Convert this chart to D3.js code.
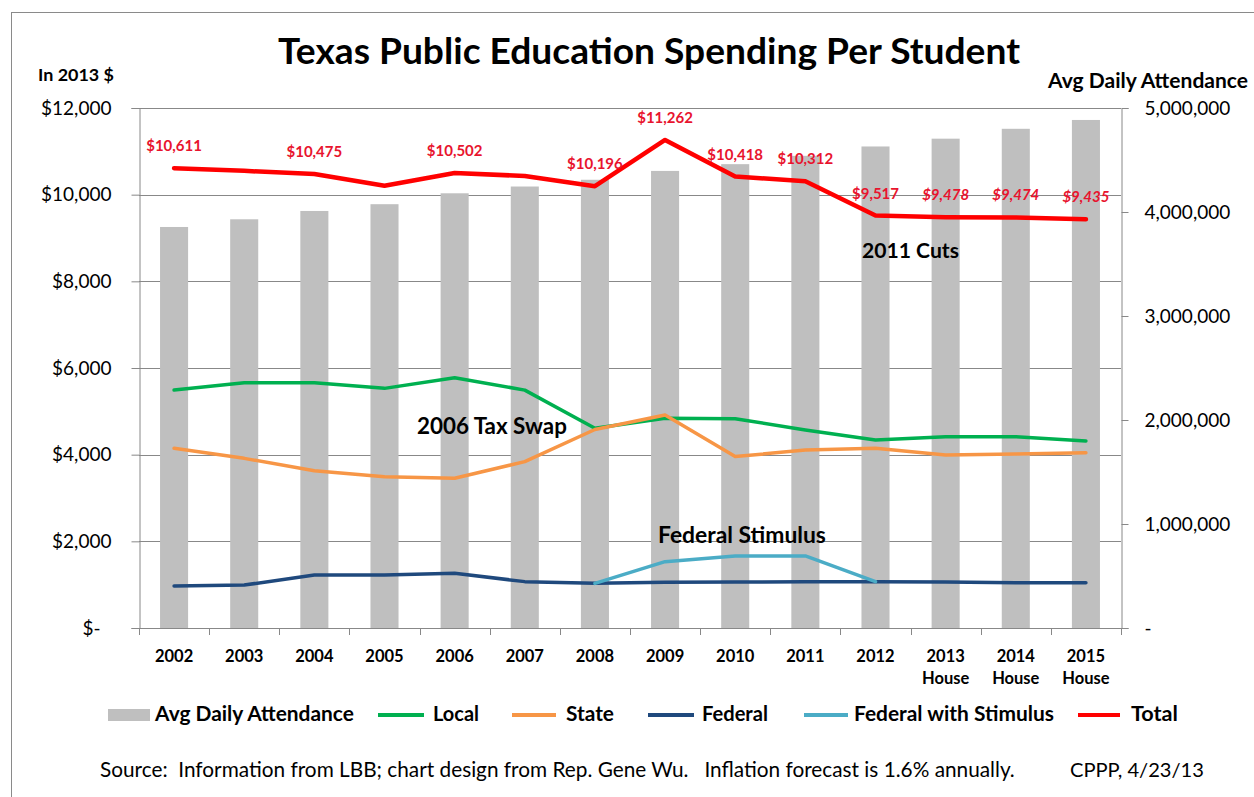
<!DOCTYPE html>
<html>
<head>
<meta charset="utf-8">
<script src="https://cdn.jsdelivr.net/npm/d3@7"></script>
<style>
  html, body { margin: 0; padding: 0; background: #fff; }
  svg { display: block; font-family: Lato, "Open Sans", sans-serif; }
</style>
</head>
<body>
<svg id="chart" width="1254" height="797"></svg>
<script>
// ---------------- DATA ----------------
const years = ['2002','2003','2004','2005','2006','2007','2008','2009','2010','2011','2012','2013','2014','2015'];
const yearNotes = ['','','','','','','','','','','','House','House','House'];
const attendance = [3856000, 3930000, 4010000, 4075000, 4180000, 4245000, 4310000, 4395000, 4460000, 4540000, 4630000, 4705000, 4800000, 4885000];
const local = [5490, 5660, 5660, 5530, 5775, 5490, 4610, 4840, 4830, 4570, 4340, 4415, 4415, 4315];
const state = [4146, 3915, 3630, 3490, 3455, 3840, 4580, 4915, 3955, 4108, 4146, 3990, 4015, 4046];
const federal = [970, 990, 1225, 1225, 1262, 1070, 1030, 1054, 1060, 1065, 1069, 1062, 1046, 1046];
const federalStimulus = [null, null, null, null, null, null, 1030, 1530, 1662, 1662, 1069, null, null, null];
const total = [10611, 10550, 10475, 10205, 10502, 10430, 10196, 11262, 10418, 10312, 9517, 9478, 9474, 9435];
const totalLabelShown = [true, false, true, false, true, false, true, true, true, true, true, true, true, true];
const leftTicks = [0, 2000, 4000, 6000, 8000, 10000, 12000];
const rightTicks = [0, 1000000, 2000000, 3000000, 4000000, 5000000];

// ---------------- LAYOUT ----------------
const svg = d3.select('#chart');
const P = { left: 139, right: 1121, top: 108, bottom: 628 };
const C = {
  bar: '#BFBFBF', local: '#00B050', state: '#F79646', federal: '#1F497D',
  stim: '#4BACC6', total: '#FF0000', label: '#E8142E', grid: '#888888', text: '#000'
};

function fit(sel, target) {
  sel.each(function () {
    const fs = parseFloat(this.getAttribute('font-size'));
    const w = this.getComputedTextLength();
    if (w > 0) this.setAttribute('font-size', (fs * target / w).toFixed(2));
  });
  return sel;
}

// Border (chart area frame)
svg.append('line').attr('x1', 11.5).attr('x2', 11.5).attr('y1', 12).attr('y2', 797).attr('stroke', '#8a8a8a');
svg.append('line').attr('x1', 11).attr('x2', 1254).attr('y1', 12.5).attr('y2', 12.5).attr('stroke', '#8a8a8a');

const x = d3.scaleBand().domain(years).range([P.left, P.right]).paddingInner(0.6).paddingOuter(0.3);
const xc = d => x(d) + x.bandwidth() / 2;
const yL = d3.scaleLinear().domain([0, 12000]).range([P.bottom, P.top]);
const yR = d3.scaleLinear().domain([0, 5000000]).range([P.bottom, P.top]);

// Gridlines
svg.append('g').selectAll('line').data(leftTicks.filter(d => d > 0)).join('line')
  .attr('x1', P.left).attr('x2', P.right)
  .attr('y1', d => Math.round(yL(d)) + 0.5).attr('y2', d => Math.round(yL(d)) + 0.5)
  .attr('stroke', C.grid).attr('stroke-width', 1);

// Bars
svg.append('g').selectAll('rect').data(years).join('rect')
  .attr('x', d => x(d)).attr('width', x.bandwidth())
  .attr('y', (d, i) => yR(attendance[i])).attr('height', (d, i) => P.bottom - yR(attendance[i]))
  .attr('fill', C.bar);

// Axes
const axL = svg.append('g').attr('transform', `translate(${P.left + 0.5},0)`)
  .call(d3.axisLeft(yL).tickValues(leftTicks).tickSize(8).tickPadding(20)
    .tickFormat(d => d === 0 ? '$-' : '$' + d3.format(',')(d)));
axL.selectAll('text').attr('font-size', 19).attr('font-family', 'Lato').attr('fill', '#000')
  .attr('dx', d => d === 0 ? -11 : 0);

const axR = svg.append('g').attr('transform', `translate(${P.right + 0.5},0)`)
  .call(d3.axisRight(yR).tickValues(rightTicks).tickSize(7).tickPadding(16)
    .tickFormat(d => d === 0 ? '-' : d3.format(',')(d)));
axR.selectAll('text').attr('font-size', 19).attr('font-family', 'Lato').attr('fill', '#000');

[axL, axR].forEach(a => {
  a.select('.domain').attr('stroke', C.grid);
  a.selectAll('.tick line').attr('stroke', C.grid);
});

// X axis (category boundaries as ticks)
const xAxis = svg.append('g');
xAxis.append('line').attr('x1', P.left).attr('x2', P.right)
  .attr('y1', P.bottom + 0.5).attr('y2', P.bottom + 0.5).attr('stroke', C.grid);
const step = x.step();
xAxis.selectAll('line.tk').data(d3.range(years.length + 1)).join('line').attr('class', 'tk')
  .attr('x1', i => Math.round(P.left + i * step) + 0.5).attr('x2', i => Math.round(P.left + i * step) + 0.5)
  .attr('y1', P.bottom).attr('y2', P.bottom + 7).attr('stroke', C.grid);
xAxis.selectAll('text.yr').data(years).join('text').attr('class', 'yr')
  .attr('x', d => xc(d)).attr('y', 662).attr('text-anchor', 'middle')
  .attr('font-size', 16.5).attr('font-weight', 700).text(d => d);
xAxis.selectAll('text.note').data(years.map((d, i) => [d, yearNotes[i]]).filter(d => d[1])).join('text').attr('class', 'note')
  .attr('x', d => xc(d[0])).attr('y', 684).attr('text-anchor', 'middle')
  .attr('font-size', 16.5).attr('font-weight', 700).text(d => d[1]);

// Lines
function drawLine(values, color, width) {
  const line = d3.line().defined(d => d[1] != null).x(d => xc(d[0])).y(d => yL(d[1]));
  svg.append('path').datum(years.map((d, i) => [d, values[i]]))
    .attr('d', line).attr('fill', 'none').attr('stroke', color).attr('stroke-width', width)
    .attr('stroke-linejoin', 'round').attr('stroke-linecap', 'round');
}
drawLine(local, C.local, 3.5);
drawLine(state, C.state, 3.5);
drawLine(federal, C.federal, 3.5);
drawLine(federalStimulus, C.stim, 3.5);
drawLine(total, C.total, 4.5);

// Total labels
svg.append('g').selectAll('text').data(years.map((d, i) => ({ d, i })).filter(o => totalLabelShown[o.i])).join('text')
  .attr('x', o => xc(o.d)).attr('y', o => yL(total[o.i]) - 17)
  .attr('text-anchor', 'middle').attr('font-size', 15).attr('font-weight', 700)
  .attr('font-style', o => yearNotes[o.i] ? 'italic' : 'normal')
  .attr('fill', C.label).text(o => '$' + d3.format(',')(total[o.i]));

// Annotations
const ann = [
  { t: '2006 Tax Swap', x: 417, y: 434, w: 150 },
  { t: 'Federal Stimulus', x: 658, y: 543, w: 168 },
  { t: '2011 Cuts', x: 862, y: 258, w: 97 }
];
ann.forEach(a => {
  svg.append('text').attr('x', a.x).attr('y', a.y).attr('font-size', 18).attr('font-weight', 700)
    .text(a.t).call(fit, a.w);
});

// Title & axis titles
svg.append('text').attr('x', 649).attr('y', 64).attr('text-anchor', 'middle')
  .attr('font-size', 34).attr('font-weight', 700).text('Texas Public Education Spending Per Student').call(fit, 742);
svg.append('text').attr('x', 38).attr('y', 81).attr('font-size', 16).attr('font-weight', 700)
  .text('In 2013 $').call(fit, 76);
svg.append('text').attr('x', 1248).attr('y', 88).attr('text-anchor', 'end').attr('font-size', 16).attr('font-weight', 700)
  .text('Avg Daily Attendance').call(fit, 200);

// Legend
const legendItems = [
  { t: 'Avg Daily Attendance', type: 'rect', c: C.bar, sx: 108, ex: 150, tx: 155, w: 199 },
  { t: 'Local', type: 'line', c: C.local, sx: 378, ex: 424, tx: 433, w: 46 },
  { t: 'State', type: 'line', c: C.state, sx: 512, ex: 556, tx: 566, w: 48 },
  { t: 'Federal', type: 'line', c: C.federal, sx: 648, ex: 694, tx: 702, w: 66 },
  { t: 'Federal with Stimulus', type: 'line', c: C.stim, sx: 804, ex: 848, tx: 854, w: 200 },
  { t: 'Total', type: 'line', c: C.total, sx: 1078, ex: 1120, tx: 1131, w: 47 }
];
const lg = svg.append('g');
legendItems.forEach(it => {
  if (it.type === 'rect') {
    lg.append('rect').attr('x', it.sx).attr('y', 709).attr('width', it.ex - it.sx).attr('height', 12).attr('fill', it.c);
  } else {
    lg.append('line').attr('x1', it.sx).attr('x2', it.ex).attr('y1', 715).attr('y2', 715)
      .attr('stroke', it.c).attr('stroke-width', 4);
  }
  lg.append('text').attr('x', it.tx).attr('y', 721).attr('font-size', 18).attr('font-weight', 700)
    .text(it.t).call(fit, it.w);
});

// Source
svg.append('text').attr('x', 100).attr('y', 777).attr('font-size', 17).style('white-space', 'pre')
  .text('Source:  Information from LBB; chart design from Rep. Gene Wu.   Inflation forecast is 1.6% annually.').call(fit, 915);
svg.append('text').attr('x', 1070).attr('y', 777).attr('font-size', 17)
  .text('CPPP, 4/23/13').call(fit, 134);
</script>
</body>
</html>
